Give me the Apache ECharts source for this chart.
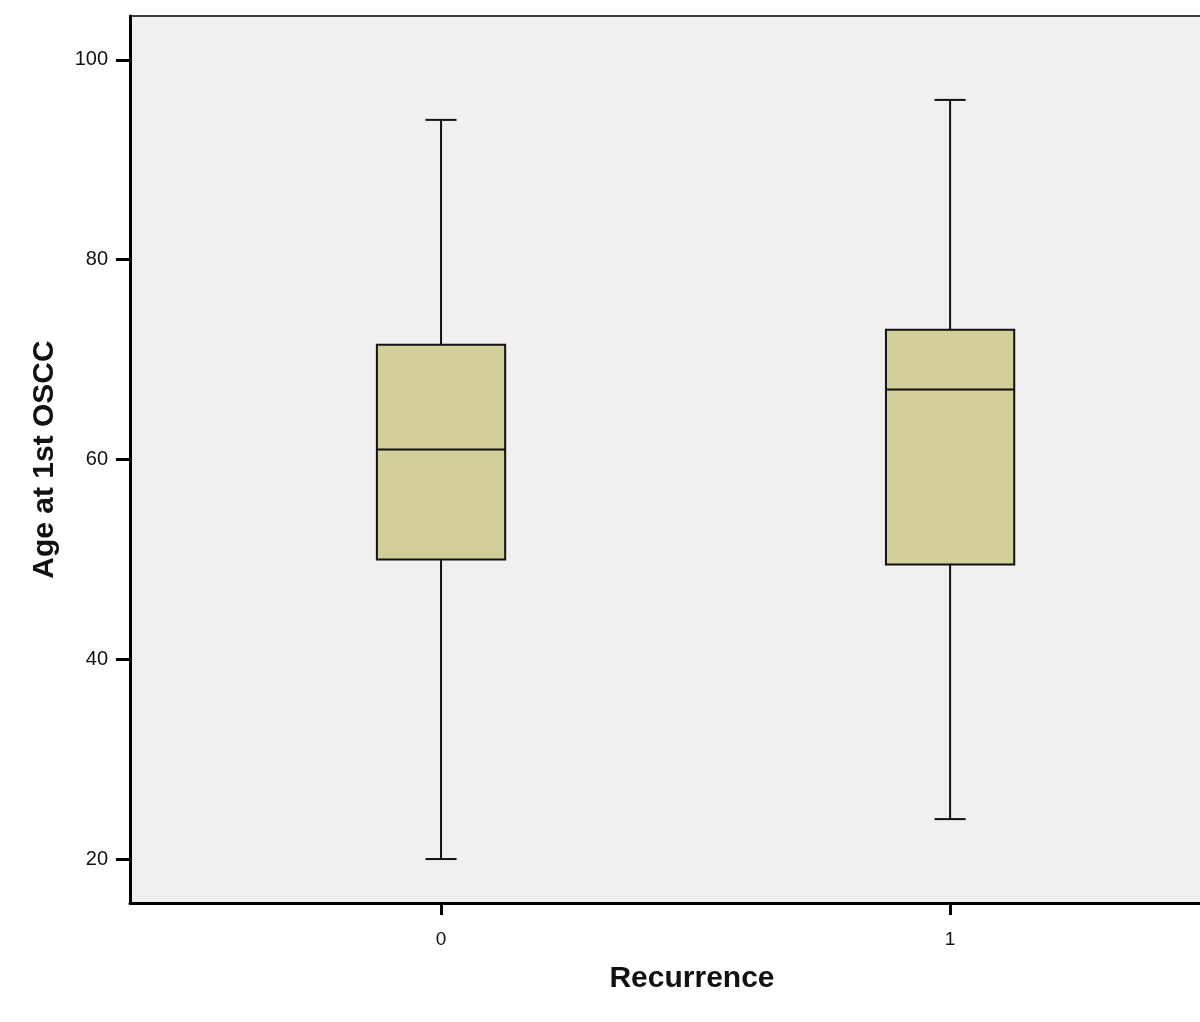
<!DOCTYPE html>
<html>
<head>
<meta charset="utf-8">
<script src="https://cdn.jsdelivr.net/npm/echarts@6/dist/echarts.min.js"></script>
<style>html,body{margin:0;padding:0;background:#fff;overflow:hidden;}#chart{width:1260px;height:1022px;}</style>
</head>
<body>
<div id="chart"></div>
<script>
const categories = ['0', '1'];
const whiskerLow = [20, 24];
const quartile1 = [50, 49.5];
const medians = [61, 67];
const quartile3 = [71.5, 73];
const whiskerHigh = [94, 96];
const yTickValues = [20, 40, 60, 80, 100];
const xTickValues = [0, 1];

const boxData = categories.map((c, i) => [i, whiskerLow[i], quartile1[i], medians[i], quartile3[i], whiskerHigh[i]]);

const BOX_HALF = 0.126;
const CAP_HALF = 0.0305;
const lineStyle = { stroke: '#111', lineWidth: 2 };

function renderItem(params, api) {
  const x = api.value(0);
  const lo = api.value(1), q1 = api.value(2), med = api.value(3), q3 = api.value(4), hi = api.value(5);
  const pc = api.coord([x, 0]);
  const pLo = api.coord([x, lo]), pHi = api.coord([x, hi]);
  const pQ1 = api.coord([x, q1]), pQ3 = api.coord([x, q3]), pMed = api.coord([x, med]);
  const left = api.coord([x - BOX_HALF, q3])[0];
  const right = api.coord([x + BOX_HALF, q3])[0];
  const capL = api.coord([x - CAP_HALF, hi])[0];
  const capR = api.coord([x + CAP_HALF, hi])[0];
  const cx = pc[0];
  return {
    type: 'group',
    children: [
      { type: 'line', shape: { x1: cx, y1: pHi[1], x2: cx, y2: pQ3[1] }, style: lineStyle },
      { type: 'line', shape: { x1: cx, y1: pQ1[1], x2: cx, y2: pLo[1] }, style: lineStyle },
      { type: 'line', shape: { x1: capL, y1: pHi[1], x2: capR, y2: pHi[1] }, style: lineStyle },
      { type: 'line', shape: { x1: capL, y1: pLo[1], x2: capR, y2: pLo[1] }, style: lineStyle },
      { type: 'rect', shape: { x: left, y: pQ3[1], width: right - left, height: pQ1[1] - pQ3[1] },
        style: { fill: '#d3cf9a', stroke: '#111', lineWidth: 2 } },
      { type: 'line', shape: { x1: left, y1: pMed[1], x2: right, y2: pMed[1] }, style: lineStyle }
    ]
  };
}

const chart = echarts.init(document.getElementById('chart'), null, { renderer: 'canvas' });
chart.setOption({
  animation: false,
  backgroundColor: '#ffffff',
  grid: {
    left: 130, top: 16, width: 1124, bottom: 119,
    show: true, backgroundColor: '#f0f0f0', borderColor: '#000', borderWidth: 1.5,
    containLabel: false
  },
  xAxis: {
    type: 'value',
    min: -0.611, max: 1.597,
    name: 'Recurrence',
    nameLocation: 'middle',
    nameGap: 61,
    nameTextStyle: { fontFamily: 'Liberation Sans', fontWeight: 'bold', fontSize: 30, color: '#111' },
    axisLine: { show: true, onZero: false, lineStyle: { color: '#000', width: 3 } },
    axisTick: { show: true, customValues: xTickValues, length: 12, lineStyle: { color: '#000', width: 3 } },
    axisLabel: {
      show: true, customValues: xTickValues, margin: 27,
      fontFamily: 'Liberation Sans', fontSize: 19, color: '#111',
      formatter: v => categories[Math.round(v)]
    },
    splitLine: { show: false }
  },
  yAxis: {
    type: 'value',
    min: 15.6, max: 104.4,
    name: 'Age at 1st OSCC',
    nameLocation: 'middle',
    nameGap: 70,
    nameRotate: 90,
    nameTextStyle: { fontFamily: 'Liberation Sans', fontWeight: 'bold', fontSize: 30, color: '#111' },
    axisLine: { show: true, onZero: false, lineStyle: { color: '#000', width: 3 } },
    axisTick: { show: true, customValues: yTickValues, length: 14, lineStyle: { color: '#000', width: 3 } },
    axisLabel: {
      show: true, customValues: yTickValues, margin: 22,
      fontFamily: 'Liberation Sans', fontSize: 20, color: '#111'
    },
    splitLine: { show: false }
  },
  series: [{
    type: 'custom',
    renderItem: renderItem,
    encode: { x: 0, y: [1, 2, 3, 4, 5] },
    data: boxData,
    clip: false
  }]
});
</script>
</body>
</html>
